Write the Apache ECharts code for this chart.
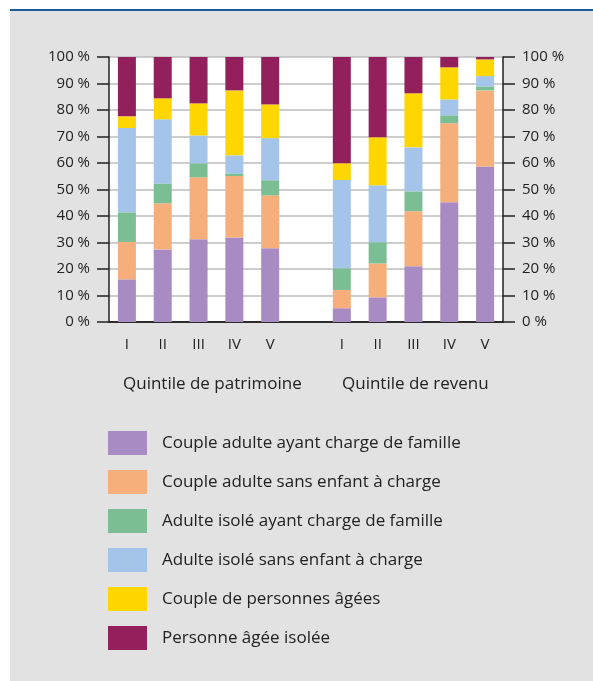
<!DOCTYPE html>
<html lang="fr">
<head>
    <meta charset="UTF-8">
    <title>Quintiles de patrimoine et de revenu</title>
    <script type="text/javascript" src="https://cdn.jsdelivr.net/npm/echarts@6/dist/echarts.min.js"></script>
    <style>
        body { margin: 0; background: #fff; }
        .wrap { position: relative; width: 593px; height: 681px; }
        .panel { position: absolute; left: 10px; top: 9px; right: 0; bottom: 0;
                 background: #e2e2e2; border-top: 2px solid #1f5a9a; }
        #chart { position: absolute; left: 0; top: 0; width: 593px; height: 681px; }
    </style>
</head>
<body>
<div class="wrap">
    <div class="panel"></div>
    <div id="chart"></div>
</div>
<script type="text/javascript">
// quintiles (axe des x)
var quintiles = ['I', 'II', 'III', 'IV', 'V'];
var groupTitles = ['Quintile de patrimoine', 'Quintile de revenu'];
var yTicks = [0, 10, 20, 30, 40, 50, 60, 70, 80, 90, 100];

var seriesNames = [
    'Couple adulte ayant charge de famille',
    'Couple adulte sans enfant à charge',
    'Adulte isolé ayant charge de famille',
    'Adulte isolé sans enfant à charge',
    'Couple de personnes âgées',
    'Personne âgée isolée'
];
var seriesColors = ['#a78bc2', '#f6ae7b', '#7bbe94', '#a4c5e9', '#ffd600', '#93205c'];

// parts en %, quintile de patrimoine
var coupleFamillePat = [16.1, 27.4, 31.2, 31.9, 27.8];
var coupleSansEnfPat = [14.1, 17.4, 23.4, 23.2, 20.0];
var isoleFamillePat = [11.2, 7.5, 5.3, 1.0, 5.7];
var isoleSansEnfPat = [31.8, 24.2, 10.5, 6.8, 15.9];
var coupleAgesPat = [4.4, 7.9, 12.1, 24.5, 12.7];
var ageIsolePat = [22.4, 15.6, 17.5, 12.6, 17.9];

// parts en %, quintile de revenu
var coupleFamilleRev = [5.2, 9.3, 21.0, 45.2, 58.7];
var coupleSansEnfRev = [6.9, 12.8, 20.8, 29.8, 28.7];
var isoleFamilleRev = [8.2, 8.0, 7.5, 3.0, 1.5];
var isoleSansEnfRev = [33.3, 21.5, 16.6, 6.0, 3.9];
var coupleAgesRev = [6.3, 18.1, 20.4, 12.1, 6.3];
var ageIsoleRev = [40.1, 30.3, 13.7, 3.9, 0.9];

var patData = [coupleFamillePat, coupleSansEnfPat, isoleFamillePat, isoleSansEnfPat, coupleAgesPat, ageIsolePat];
var revData = [coupleFamilleRev, coupleSansEnfRev, isoleFamilleRev, isoleSansEnfRev, coupleAgesRev, ageIsoleRev];

// 5 + colonne vide + 5
var xCats = quintiles.concat(['']).concat(quintiles);

var FONT = 'Open Sans';
var TXT = '#222';

var chart = echarts.init(document.getElementById('chart'));

var series = [];
for (var i = 0; i < seriesNames.length; i++) {
    series.push({
        name: seriesNames[i],
        type: 'bar',
        stack: 'total',
        barWidth: 18,
        itemStyle: { color: seriesColors[i] },
        data: patData[i].concat(['-']).concat(revData[i])
    });
}

var yAxisBase = function (pos) {
    return {
        type: 'value',
        position: pos,
        min: 0,
        max: 100,
        interval: 10,
        axisLine: { show: true, lineStyle: { color: TXT, width: 1.5 } },
        axisTick: { show: true, length: 12, lineStyle: { color: TXT, width: 1.5 } },
        axisLabel: {
            margin: 19,
            fontFamily: FONT,
            fontSize: 15,
            color: TXT,
            formatter: function (v) { return yTicks.indexOf(v) >= 0 ? v + ' %' : ''; }
        },
        splitLine: { show: pos === 'left', lineStyle: { color: '#bdbdbd', width: 1.5 } }
    };
};

var option = {
    animation: false,
    textStyle: { fontFamily: FONT },
    grid: {
        left: 109, top: 57, width: 394, height: 265,
        show: true, backgroundColor: '#fff', borderWidth: 0
    },
    legend: {
        orient: 'vertical',
        left: 108,
        top: 431,
        padding: 0,
        itemWidth: 39,
        itemHeight: 24,
        itemGap: 15,
        icon: 'rect',
        data: seriesNames,
        textStyle: { fontFamily: FONT, fontSize: 17, color: TXT, padding: [0, 0, 0, 10] }
    },
    xAxis: [{
        type: 'category',
        data: xCats,
        position: 'bottom',
        axisLine: { lineStyle: { color: TXT, width: 1.5 } },
        axisTick: { inside: true, length: 11, interval: 0, lineStyle: { color: TXT, width: 1.5 } },
        axisLabel: { interval: 0, margin: 15, fontFamily: FONT, fontSize: 15, color: TXT }
    }, {
        type: 'category',
        data: xCats,
        position: 'top',
        axisLine: { lineStyle: { color: TXT, width: 1.5 } },
        axisTick: { show: false },
        axisLabel: { show: false }
    }],
    yAxis: [yAxisBase('left'), yAxisBase('right')],
    graphic: [{
        type: 'text', left: 123, top: 376,
        style: { text: groupTitles[0], fontFamily: FONT, fontSize: 17, fill: TXT }
    }, {
        type: 'text', left: 342, top: 376,
        style: { text: groupTitles[1], fontFamily: FONT, fontSize: 17, fill: TXT }
    }],
    series: series
};
chart.setOption(option);
</script>
</body>
</html>
